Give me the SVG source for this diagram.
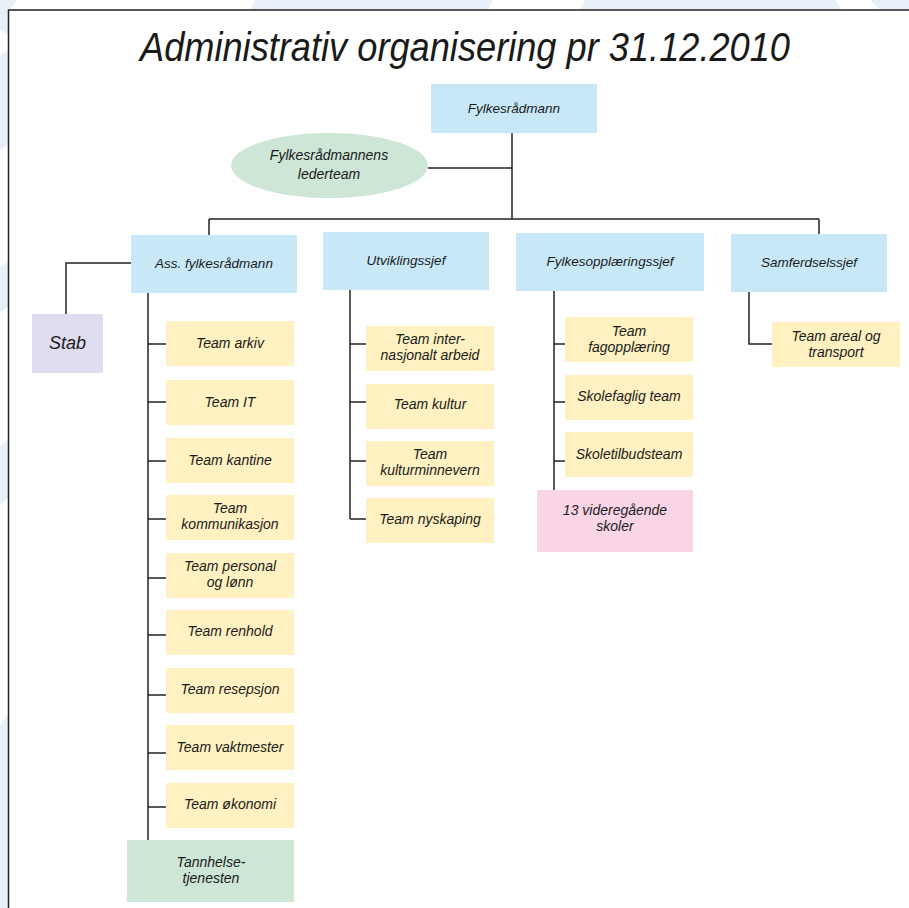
<svg xmlns="http://www.w3.org/2000/svg" width="909" height="908" viewBox="0 0 909 908">
<style>
.bg{fill:#e9eff8}
.blue{fill:#c8e8f8}
.yel{fill:#fff1c1}
.grn{fill:#cde6d5}
.lav{fill:#e0dcf0}
.pnk{fill:#f9d5e6}
text{font-family:"Liberation Sans",Arial,sans-serif;font-style:italic;fill:#1a1a1a;text-anchor:middle}
.t{font-size:14px}
.h{font-size:13.5px}
.con line,.con polyline{stroke:#222;stroke-width:1.5;fill:none}
</style>
<rect x="0" y="0" width="909" height="908" fill="#ffffff"/>
<g id="background">
<polygon class="bg" points="0,0 17,0 8,12 0,12"/>
<polygon class="bg" points="255,0 493,0 488,10 250,10"/>
<polygon class="bg" points="585,0 835,0 842,10 580,10"/>
<polygon class="bg" points="870,0 909,0 909,10 880,10"/>
<polygon class="bg" points="0,0 8,0 8,35 0,30"/>
<polygon class="bg" points="0,55 8,50 8,145 0,150"/>
<polygon class="bg" points="0,267 8,262 8,307 0,312"/>
<polygon class="bg" points="0,446 8,440 8,498 0,505"/>
<polygon class="bg" points="0,725 8,715 8,908 0,908"/>
</g>
<g id="frame"><polyline points="909,10 8.5,10 8.5,908" fill="none" stroke="#222" stroke-width="1.5"/></g>
<g id="title"><text x="465" y="61" font-size="40" textLength="650" lengthAdjust="spacingAndGlyphs">Administrativ organisering pr 31.12.2010</text></g>

<g class="con" id="connectors">
<line x1="512" y1="133" x2="512" y2="219"/>
<line x1="428" y1="168" x2="512" y2="168"/>
<line x1="209" y1="219" x2="819" y2="219"/>
<line x1="209" y1="219" x2="209" y2="235"/>
<line x1="819" y1="219" x2="819" y2="234"/>
<polyline points="131,263 66,263 66,314"/>
<line x1="148" y1="293" x2="148" y2="840"/>
<line x1="148" y1="344" x2="166" y2="344"/>
<line x1="148" y1="402" x2="166" y2="402"/>
<line x1="148" y1="461" x2="166" y2="461"/>
<line x1="148" y1="519" x2="166" y2="519"/>
<line x1="148" y1="578" x2="166" y2="578"/>
<line x1="148" y1="635" x2="166" y2="635"/>
<line x1="148" y1="695" x2="166" y2="695"/>
<line x1="148" y1="753" x2="166" y2="753"/>
<line x1="148" y1="807" x2="166" y2="807"/>
<line x1="350" y1="290" x2="350" y2="519"/>
<line x1="350" y1="344" x2="366" y2="344"/>
<line x1="350" y1="402" x2="366" y2="402"/>
<line x1="350" y1="461" x2="366" y2="461"/>
<line x1="350" y1="519" x2="366" y2="519"/>
<line x1="554" y1="291" x2="554" y2="490"/>
<line x1="554" y1="344" x2="565" y2="344"/>
<line x1="554" y1="402" x2="565" y2="402"/>
<line x1="554" y1="461" x2="565" y2="461"/>
<polyline points="749,292 749,344 772,344"/>
</g>

<g id="fylkesradmann"><rect class="blue" x="431" y="84" width="166" height="49"/><text class="h" x="514" y="113">Fylkesrådmann</text></g>
<g id="lederteam"><ellipse class="grn" cx="329.5" cy="165.5" rx="98.5" ry="32.5"/><text class="t" x="329" y="160">Fylkesrådmannens</text><text class="t" x="329" y="179">lederteam</text></g>

<g id="ass"><rect class="blue" x="131" y="235" width="166" height="58"/><text class="h" x="214" y="268">Ass. fylkesrådmann</text></g>
<g id="utvikling"><rect class="blue" x="323" y="232" width="166" height="58"/><text class="h" x="406" y="265">Utviklingssjef</text></g>
<g id="fylkesopplaering"><rect class="blue" x="516" y="233" width="188" height="58"/><text class="h" x="610" y="266">Fylkesopplæringssjef</text></g>
<g id="samferdsel"><rect class="blue" x="731" y="234" width="156" height="58"/><text class="h" x="809" y="267">Samferdselssjef</text></g>

<g id="stab"><rect class="lav" x="32" y="314" width="71" height="59"/><text x="67.5" y="349" font-size="18">Stab</text></g>

<g id="team-arkiv"><rect class="yel" x="166" y="321" width="128" height="45"/><text class="t" x="230" y="348">Team arkiv</text></g>
<g id="team-it"><rect class="yel" x="166" y="380" width="128" height="45"/><text class="t" x="230" y="407">Team IT</text></g>
<g id="team-kantine"><rect class="yel" x="166" y="438" width="128" height="45"/><text class="t" x="230" y="465">Team kantine</text></g>
<g id="team-kommunikasjon"><rect class="yel" x="166" y="495" width="128" height="45"/><text class="t" x="230" y="513">Team</text><text class="t" x="230" y="529">kommunikasjon</text></g>
<g id="team-personal"><rect class="yel" x="166" y="553" width="128" height="45"/><text class="t" x="230" y="571">Team personal</text><text class="t" x="230" y="587">og lønn</text></g>
<g id="team-renhold"><rect class="yel" x="166" y="610" width="128" height="45"/><text class="t" x="230" y="636">Team renhold</text></g>
<g id="team-resepsjon"><rect class="yel" x="166" y="668" width="128" height="45"/><text class="t" x="230" y="694">Team resepsjon</text></g>
<g id="team-vaktmester"><rect class="yel" x="166" y="725" width="128" height="45"/><text class="t" x="230" y="752">Team vaktmester</text></g>
<g id="team-okonomi"><rect class="yel" x="166" y="783" width="128" height="45"/><text class="t" x="230" y="809">Team økonomi</text></g>
<g id="tannhelse"><rect class="grn" x="127" y="840" width="167" height="62"/><text class="t" x="211" y="867">Tannhelse-</text><text class="t" x="211" y="883">tjenesten</text></g>

<g id="team-internasjonalt"><rect class="yel" x="366" y="326" width="128" height="45"/><text class="t" x="430" y="344">Team inter-</text><text class="t" x="430" y="360">nasjonalt arbeid</text></g>
<g id="team-kultur"><rect class="yel" x="366" y="384" width="128" height="45"/><text class="t" x="430" y="409">Team kultur</text></g>
<g id="team-kulturminnevern"><rect class="yel" x="366" y="441" width="128" height="45"/><text class="t" x="430" y="459">Team</text><text class="t" x="430" y="475">kulturminnevern</text></g>
<g id="team-nyskaping"><rect class="yel" x="366" y="498" width="128" height="45"/><text class="t" x="430" y="524">Team nyskaping</text></g>

<g id="team-fagopplaering"><rect class="yel" x="565" y="317" width="128" height="45"/><text class="t" x="629" y="336">Team</text><text class="t" x="629" y="352">fagopplæring</text></g>
<g id="skolefaglig"><rect class="yel" x="565" y="375" width="128" height="45"/><text class="t" x="629" y="401">Skolefaglig team</text></g>
<g id="skoletilbud"><rect class="yel" x="565" y="432" width="128" height="45"/><text class="t" x="629" y="459">Skoletilbudsteam</text></g>
<g id="vgs"><rect class="pnk" x="537" y="490" width="156" height="62"/><text class="t" x="615" y="515">13 videregående</text><text class="t" x="615" y="531">skoler</text></g>

<g id="team-areal"><rect class="yel" x="772" y="322" width="128" height="45"/><text class="t" x="836" y="341">Team areal og</text><text class="t" x="836" y="357">transport</text></g>
</svg>
